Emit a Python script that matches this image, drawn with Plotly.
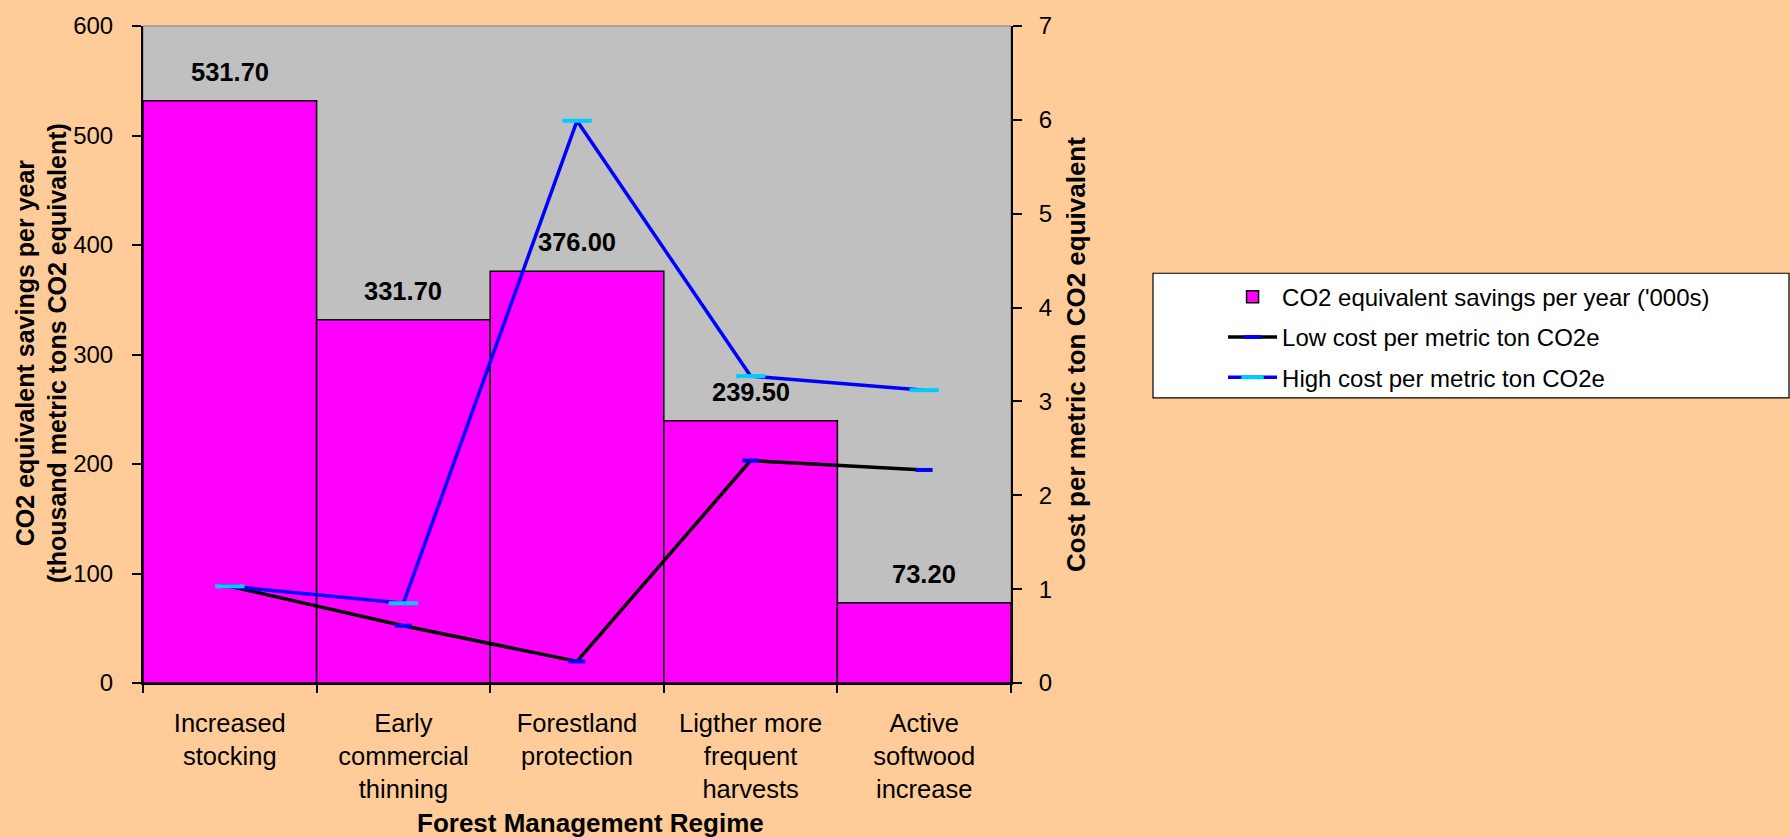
import plotly.graph_objects as go

# Forest management regimes and their carbon figures
categories = [
    "Increased<br>stocking",
    "Early<br>commercial<br>thinning",
    "Forestland<br>protection",
    "Ligther more<br>frequent<br>harvests",
    "Active<br>softwood<br>increase",
]
savings = [531.70, 331.70, 376.00, 239.50, 73.20]      # thousand t CO2e / year
low_cost = [1.03, 0.61, 0.23, 2.37, 2.27]              # $ per t CO2e
high_cost = [1.03, 0.85, 5.99, 3.27, 3.12]             # $ per t CO2e

FONT = "Arial, Liberation Sans, sans-serif"
PEACH = "#FFCC99"
GREY = "#C0C0C0"
MAGENTA = "#FF00FF"
BLUE = "#0000FF"
CYAN = "#00CCFF"

fig = go.Figure()

fig.add_trace(go.Bar(
    x=categories, y=savings, width=1.0,
    name="CO2 equivalent savings per year ('000s)",
    marker=dict(color=MAGENTA, line=dict(color="black", width=1.5)),
    legendgroup="a",
))

fig.add_trace(go.Scatter(
    x=categories, y=low_cost, yaxis="y2", mode="lines+markers",
    name="Low cost per metric ton CO2e",
    line=dict(color="black", width=3.5),
    marker=dict(symbol="line-ew", size=12, color=BLUE, line=dict(color=BLUE, width=4)),
    legendgroup="b",
))

fig.add_trace(go.Scatter(
    x=categories, y=high_cost, yaxis="y2", mode="lines+markers",
    name="High cost per metric ton CO2e",
    line=dict(color=BLUE, width=3.5),
    marker=dict(symbol="line-ew", size=21, color=CYAN, line=dict(color=CYAN, width=4)),
    legendgroup="c",
))

# value labels above each bar
for cat, val in zip(categories, savings):
    fig.add_annotation(
        x=cat, y=val, yref="y", text=f"<b>{val:.2f}</b>", showarrow=False,
        yshift=29, font=dict(family=FONT, size=25.5, color="black"),
    )

# axis titles
fig.add_annotation(
    xref="paper", yref="paper", x=-0.1164, y=0.5023, xanchor="center", yanchor="middle",
    text="<b>CO2 equivalent savings per year<br>(thousand metric tons CO2 equivalent)</b>",
    textangle=-90, showarrow=False, font=dict(family=FONT, size=25, color="black"),
)
fig.add_annotation(
    xref="paper", yref="paper", x=0.515, y=-0.2124, xanchor="center", yanchor="middle",
    text="<b>Forest Management Regime</b>", showarrow=False,
    font=dict(family=FONT, size=26, color="black"),
)

# plot-area frame and legend box
fig.add_shape(type="rect", xref="paper", yref="paper", x0=0, x1=1, y0=0, y1=1,
              line=dict(color="#808080", width=1), layer="below")
fig.add_shape(type="rect", xref="paper", yref="paper",
              x0=1.1636, x1=1.8963, y0=0.434, y1=0.6237,
              line=dict(color="black", width=1.2), fillcolor="white", layer="below")

axis_common = dict(showgrid=False, zeroline=False, linecolor="black", linewidth=2,
                   tickcolor="black", tickwidth=1.5,
                   tickfont=dict(family=FONT, size=24, color="black"))

fig.update_layout(
    width=1790, height=837,
    margin=dict(l=143, r=779, t=24, b=154, pad=0),
    paper_bgcolor=PEACH, plot_bgcolor=GREY,
    font=dict(family=FONT, color="black"),
    showlegend=True,
    legend=dict(
        x=1.2443, y=0.6214, xanchor="left", yanchor="top",
        bgcolor="rgba(0,0,0,0)", borderwidth=0,
        font=dict(family=FONT, size=24, color="black"),
        traceorder="grouped", tracegroupgap=6, itemwidth=49,
    ),
    xaxis=dict(
        type="category", range=[-0.5, 4.5], tickson="boundaries",
        ticks="outside", ticklen=8, ticklabelstandoff=16,
        **{**axis_common, "tickfont": dict(family=FONT, size=25.5, color="black")},
    ),
    yaxis=dict(
        range=[0, 600], dtick=100, ticks="outside", ticklen=9,
        ticklabelstandoff=14,
        **axis_common,
    ),
    yaxis2=dict(
        range=[0, 7], dtick=1, side="right", overlaying="y", anchor="x",
        ticks="outside", ticklen=9, ticklabelstandoff=12,
        title=dict(text="<b>Cost per metric ton CO2 equivalent</b>", standoff=16,
                   font=dict(family=FONT, size=26, color="black")),
        **axis_common,
    ),
    yaxis3=dict(
        range=[0, 7], dtick=1, side="right", overlaying="y", anchor="x",
        ticks="inside", ticklen=9, showticklabels=False,
        showgrid=False, zeroline=False, showline=False,
        tickcolor="black", tickwidth=1.5,
    ),
)

fig.write_html("out.html")
